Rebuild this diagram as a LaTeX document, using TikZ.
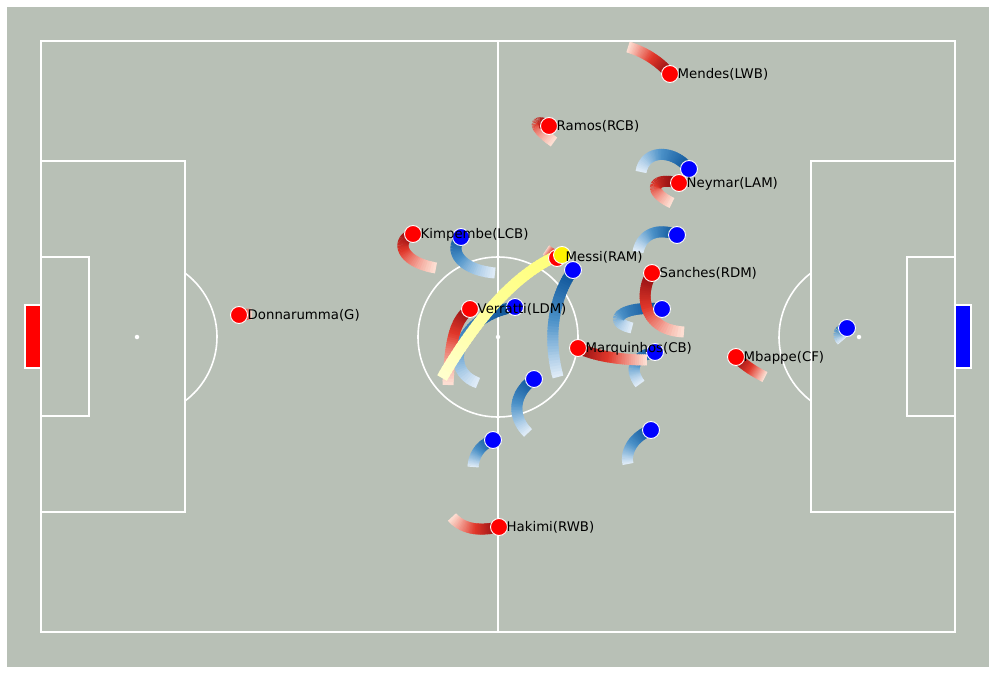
\documentclass[tikz,border=0pt]{standalone}
\usepackage{fontspec}
\setmainfont{DejaVu Sans}
\definecolor{pitch}{RGB}{184,192,182}
\definecolor{Rtail}{RGB}{253,222,210}
\definecolor{Rmid}{RGB}{225,55,42}
\definecolor{Rdark}{RGB}{135,10,15}
\definecolor{Btail}{RGB}{222,235,247}
\definecolor{Bmid}{RGB}{75,145,200}
\definecolor{Bdark}{RGB}{10,80,150}
\definecolor{Ytail}{RGB}{255,255,205}
\definecolor{Ymid}{RGB}{255,255,150}
\definecolor{Ydark}{RGB}{255,255,120}
\definecolor{goalred}{RGB}{255,0,0}
\definecolor{goalblue}{RGB}{0,0,255}
\def\drawtrail(#1,#2)(#3,#4)(#5,#6)(#7,#8)#9;{%
  \foreach \i in {0,...,39}{%
    \pgfmathsetmacro\ta{\i/40}%
    \pgfmathsetmacro\tb{min(1,(\i+1.5)/40)}%
    \pgfmathsetmacro\xa{(1-\ta)^3*#1+3*(1-\ta)^2*\ta*#3+3*(1-\ta)*\ta^2*#5+\ta^3*#7}%
    \pgfmathsetmacro\ya{(1-\ta)^3*#2+3*(1-\ta)^2*\ta*#4+3*(1-\ta)*\ta^2*#6+\ta^3*#8}%
    \pgfmathsetmacro\xb{(1-\tb)^3*#1+3*(1-\tb)^2*\tb*#3+3*(1-\tb)*\tb^2*#5+\tb^3*#7}%
    \pgfmathsetmacro\yb{(1-\tb)^3*#2+3*(1-\tb)^2*\tb*#4+3*(1-\tb)*\tb^2*#6+\tb^3*#8}%
    \pgfmathtruncatemacro\pc{100*\i/39}%
    \ifnum\pc<50 \pgfmathtruncatemacro\pq{2*\pc}\colorlet{tc}{#9mid!\pq!#9tail}%
    \else \pgfmathtruncatemacro\pq{2*\pc-100}\colorlet{tc}{#9dark!\pq!#9mid}\fi
    \draw[line width=11pt, tc] (\xa,\ya) -- (\xb,\yb);
  }}
\tikzset{
  pline/.style={white, line width=1.6pt},
  redp/.style={circle, fill=red, draw=white, line width=0.9pt, minimum size=17pt, inner sep=0pt},
  bluep/.style={circle, fill=blue, draw=white, line width=0.9pt, minimum size=17pt, inner sep=0pt},
  ballp/.style={circle, fill=yellow, draw=white, line width=0.9pt, minimum size=17pt, inner sep=0pt},
  lbl/.style={anchor=west, inner sep=0pt, font=\fontsize{13.3}{15}\selectfont},
  spot/.style={circle, fill=white, inner sep=0pt, minimum size=4.5pt}
}
\begin{document}
\begin{tikzpicture}[x=1pt,y=-1pt]
\useasboundingbox (0,0) rectangle (996,674);
\fill[white] (0,0) rectangle (996,674);
\fill[pitch] (7,7) rectangle (989,667);
% pitch markings
\draw[pline] (41,41) rectangle (955,632);
\draw[pline] (498,41) -- (498,632);
\draw[pline] (498,337) circle[radius=80];
\draw[pline] (41,161) rectangle (185,512);
\draw[pline] (811,161) rectangle (955,512);
\draw[pline] (41,257) rectangle (89,416);
\draw[pline] (907,257) rectangle (955,416);
\draw[pline] ([shift={(-53.13:80)}]137,337) arc[start angle=-53.13, end angle=53.13, radius=80];
\draw[pline] ([shift={(126.87:80)}]859,337) arc[start angle=126.87, end angle=233.13, radius=80];
\node[spot] (cspot) at (498,337) {};
\node[spot] (lspot) at (137,337) {};
\node[spot] (rspot) at (859,337) {};
\draw[white, line width=1.5pt, fill=goalred] (25,305) rectangle (41,368);
\draw[white, line width=1.5pt, fill=goalblue] (955,305) rectangle (971,368);
% blue trails
\drawtrail(842,341)(836,334)(840,329)(847,328)B;
\drawtrail(641,172)(645,148)(675,150)(689,169)B;
\drawtrail(638,252)(642,232)(660,228)(677,235)B;
\drawtrail(558,377)(548,340)(552,300)(573,270)B;
\drawtrail(495,273)(460,270)(448,250)(461,237)B;
\drawtrail(478,383)(440,370)(460,315)(515,307)B;
\drawtrail(632,328)(605,322)(620,305)(662,309)B;
\drawtrail(640,384)(628,368)(635,356)(655,352)B;
\drawtrail(528,433)(510,415)(515,392)(534,379)B;
\drawtrail(473,467)(474,455)(480,445)(493,440)B;
\drawtrail(628,464)(625,450)(635,436)(651,430)B;
% red trails
\drawtrail(628,47)(645,52)(660,62)(670,74)R;
\drawtrail(554,142)(530,125)(535,118)(549,126)R;
\drawtrail(672,203)(648,192)(650,176)(679,183)R;
\drawtrail(436,268)(400,262)(395,240)(413,234)R;
\drawtrail(448,385)(450,340)(455,320)(470,309)R;
\drawtrail(684,332)(640,330)(640,290)(652,273)R;
\drawtrail(647,360)(620,360)(595,356)(578,348)R;
\drawtrail(765,377)(755,372)(745,366)(736,357)R;
\drawtrail(452,517)(465,532)(485,530)(499,527)R;
\drawtrail(546,250)(549,252)(553,255)(557,258)R;
\drawtrail(252,314)(248,314)(243,315)(239,315)R;
% ball trail
\drawtrail(442,378)(470,330)(510,275)(561,254)Y;
% blue players
\node[bluep] (b1) at (847,328) {};
\node[bluep] (b2) at (689,169) {};
\node[bluep] (b3) at (677,235) {};
\node[bluep] (b4) at (573,270) {};
\node[bluep] (b5) at (461,237) {};
\node[bluep] (b6) at (515,307) {};
\node[bluep] (b7) at (662,309) {};
\node[bluep] (b8) at (655,352) {};
\node[bluep] (b9) at (534,379) {};
\node[bluep] (b10) at (493,440) {};
\node[bluep] (b11) at (651,430) {};
% red players
\node[redp] (donna) at (239,315) {};
\node[redp] (kimp) at (413,234) {};
\node[redp] (verr) at (470,309) {};
\node[redp] (ramos) at (549,126) {};
\node[redp] (mendes) at (670,74) {};
\node[redp] (neymar) at (679,183) {};
\node[redp] (sanches) at (652,273) {};
\node[redp] (marq) at (578,348) {};
\node[redp] (mbappe) at (736,357) {};
\node[redp] (hakimi) at (499,527) {};
\node[redp] (messi) at (557,258) {};
\node[ballp] (ball) at (562,255) {};
% labels
\node[lbl] (ldonna) at (247.5,315.5) {Donnarumma(G)};
\node[lbl] (lkimp) at (420.5,234.5) {Kimpembe(LCB)};
\node[lbl] (lverr) at (477.5,309.5) {Verratti(LDM)};
\node[lbl] (lramos) at (556.5,126.5) {Ramos(RCB)};
\node[lbl] (lmendes) at (677.5,74.5) {Mendes(LWB)};
\node[lbl] (lneymar) at (686.5,183.5) {Neymar(LAM)};
\node[lbl] (lsanches) at (659.5,273.5) {Sanches(RDM)};
\node[lbl] (lmarq) at (585.5,348.5) {Marquinhos(CB)};
\node[lbl] (lmbappe) at (743.5,357.5) {Mbappe(CF)};
\node[lbl] (lhakimi) at (506.5,527.5) {Hakimi(RWB)};
\node[lbl] (lmessi) at (565.5,257.5) {Messi(RAM)};
\end{tikzpicture}
\end{document}
